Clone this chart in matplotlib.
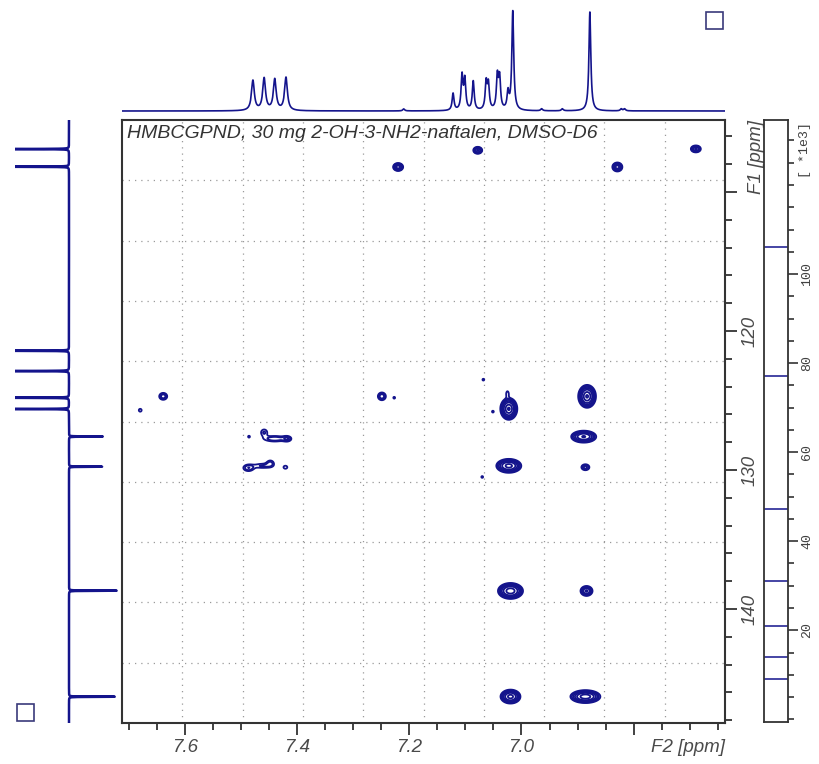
"""HMBC 2D spectrum of 2-OH-3-NH2-naphthalene with F2/F1 projections."""

import matplotlib

matplotlib.use("Agg")
import matplotlib.pyplot as plt
import numpy as np
from matplotlib.patches import Rectangle
from matplotlib.ticker import MultipleLocator

NAVY = "#14148c"
FRAME = "#333333"
LABEL = "#4a4a4a"

# F2 (1H) projection: peak position [ppm], height, FWHM [ppm]
h_ppm = [7.479, 7.459, 7.440, 7.420, 7.122, 7.106, 7.101, 7.086, 7.063, 7.059,
         7.043, 7.039, 7.024, 7.0155, 6.878, 7.210, 6.964, 6.927, 6.822, 6.816]
h_int = [30, 32, 31, 33, 17, 34, 30, 29, 27, 25,
         33, 31, 17, 99, 99, 2, 2, 2, 2, 2]
h_fwhm = [0.006, 0.006, 0.006, 0.006, 0.004, 0.004, 0.004, 0.004, 0.004, 0.004,
          0.004, 0.004, 0.004, 0.004, 0.004, 0.004, 0.004, 0.004, 0.004, 0.004]

# F1 (13C) projection: peak position [ppm], intensity
c_ppm = [106.91, 108.18, 121.42, 122.88, 124.80, 125.61, 127.59, 129.76, 138.68, 146.31]
c_int = [-80, -80, -80, -80, -80, -80, 34, 34, 48, 46]
c_fwhm = 0.02

# cross peaks: F2 ppm, F1 ppm, amplitude [*1e3], sigma F2 [ppm], sigma F1 [ppm]
cp_f2 = [7.220, 7.078, 6.829, 6.689, 7.639, 7.680, 7.249, 7.227, 7.459, 7.440,
         7.418, 7.486, 7.487, 7.462, 7.448, 7.421, 7.0226, 7.025, 7.051, 7.068,
         6.883, 6.889, 7.0226, 6.886, 7.070, 7.0196, 6.884, 7.0196, 6.886]
cp_f1 = [108.2, 107.0, 108.2, 106.9, 124.7, 125.7, 124.7, 124.8, 127.3, 127.75,
         127.75, 127.6, 129.85, 129.7, 129.5, 129.8, 125.6, 124.5, 125.8, 123.5,
         124.7, 127.6, 129.7, 129.8, 130.5, 138.7, 138.7, 146.3, 146.3]
cp_amp = [60, 50, 60, 50, 30, 11, 30, 10, 15, 20,
          18, 10, 20, 15, 15, 12, 110, 12, 10, 10,
          110, 80, 90, 25, 10, 100, 50, 90, 100]
cp_s2 = [0.0046, 0.0043, 0.0046, 0.0048, 0.0046, 0.0041, 0.0046, 0.0037, 0.0054, 0.0143,
         0.0054, 0.0037, 0.0071, 0.0125, 0.0054, 0.0045, 0.0068, 0.0027, 0.0037, 0.0037,
         0.0071, 0.0107, 0.0104, 0.0050, 0.0037, 0.0102, 0.0058, 0.0083, 0.0122]
cp_s1 = [0.147, 0.135, 0.166, 0.135, 0.161, 0.166, 0.180, 0.149, 0.216, 0.158,
         0.144, 0.149, 0.180, 0.144, 0.180, 0.144, 0.353, 0.216, 0.149, 0.149,
         0.369, 0.206, 0.234, 0.150, 0.149, 0.262, 0.194, 0.234, 0.212]

# contour levels [*1e3]
levels = [9.1, 14.1, 21.0, 31.1, 47.3, 77.1, 106.1]

# axis ticks (labels hidden where the axis titles sit)
f2_ticks = [7.6, 7.4, 7.2, 7.0, 6.8]
f2_labels = ["7.6", "7.4", "7.2", "7.0", ""]
f1_ticks = [110, 120, 130, 140]
f1_labels = ["", "120", "130", "140"]
lev_ticks = [20, 40, 60, 80, 100]

F2_LIM = (7.7125, 6.637)
F1_LIM = (148.2, 104.82)
LEV_LIM = (-0.6, 134.6)

W, H = 819, 764
fig = plt.figure(figsize=(W / 100, H / 100), dpi=100)
plt.rcParams["font.family"] = ["Liberation Sans", "DejaVu Sans"]


def px_axes(x0, y0, x1, y1):
    return fig.add_axes([x0 / W, 1 - y1 / H, (x1 - x0) / W, (y1 - y0) / H])


def lorentz(x, pos, amp, fwhm):
    g = fwhm / 2
    return amp * g**2 / ((x - pos) ** 2 + g**2)


# ---- main 2D plot
ax = px_axes(122, 120, 725, 723)
x2 = np.linspace(F2_LIM[1], F2_LIM[0], 1300)
y1 = np.linspace(F1_LIM[1], F1_LIM[0], 1300)
X, Y = np.meshgrid(x2, y1)
Z = np.zeros_like(X)
for f2, f1, a, s2, s1 in zip(cp_f2, cp_f1, cp_amp, cp_s2, cp_s1):
    Z += a * np.exp(-0.5 * (((X - f2) / s2) ** 2 + ((Y - f1) / s1) ** 2))
ax.contour(X, Y, Z, levels=levels, colors=NAVY, linewidths=1.3)

ax.set_xlim(*F2_LIM)
ax.set_ylim(*F1_LIM)
for gx in np.linspace(F2_LIM[0], F2_LIM[1], 11)[1:-1]:
    ax.axvline(gx, color="#9a9a9a", lw=0.9, ls=(0, (1, 4)), zorder=0)
for gy in np.linspace(F1_LIM[0], F1_LIM[1], 11)[1:-1]:
    ax.axhline(gy, color="#9a9a9a", lw=0.9, ls=(0, (1, 4)), zorder=0)

ax.set_xticks(f2_ticks, f2_labels)
ax.xaxis.set_minor_locator(MultipleLocator(0.05))
ax.yaxis.tick_right()
ax.set_yticks(f1_ticks, f1_labels)
ax.yaxis.set_minor_locator(MultipleLocator(2))
ax.tick_params(which="major", length=8.6, width=1.3, color=FRAME, labelsize=13.5,
               labelcolor=LABEL, pad=3)
ax.tick_params(which="minor", length=5.2, width=1.3, color=FRAME)
ax.tick_params(axis="y", labelrotation=90)
for lbl in ax.get_xticklabels() + ax.get_yticklabels():
    lbl.set_fontstyle("italic")
for lbl in ax.get_yticklabels():
    lbl.set_va("center")
for sp in ax.spines.values():
    sp.set_color(FRAME)
    sp.set_linewidth(1.5)

ax.text(5 / 603, 1 - 5 / 603, "HMBCGPND, 30 mg 2-OH-3-NH2-naftalen, DMSO-D6",
        transform=ax.transAxes, ha="left", va="top", fontsize=14,
        style="italic", color="#333333")
ax.text(1.0, -0.026, "F2 [ppm]", transform=ax.transAxes, ha="right", va="top",
        fontsize=13.5, style="italic", color=LABEL)
ax.text(1.0 + 31 / 603, 1.0, "F1 [ppm]", transform=ax.transAxes, ha="center",
        va="top", rotation=90, fontsize=13.5, style="italic", color=LABEL)

# ---- F2 projection on top
top = px_axes(122, 0, 725, 118)
hx = np.linspace(F2_LIM[1], F2_LIM[0], 6000)
hy = np.zeros_like(hx)
for p, a, w in zip(h_ppm, h_int, h_fwhm):
    hy += lorentz(hx, p, a, w)
top.plot(hx, hy, color=NAVY, lw=1.2)
top.set_xlim(*F2_LIM)
top.set_ylim(-7, 111)
top.axis("off")

# ---- F1 projection on the left
left = px_axes(15, 120, 120, 723)
cy = np.linspace(F1_LIM[1], F1_LIM[0], 12000)
cx = np.zeros_like(cy)
for p, a in zip(c_ppm, c_int):
    cx += lorentz(cy, p, a, c_fwhm)
left.plot(cx, cy, color=NAVY, lw=1.8)
left.set_xlim(-54, 51)
left.set_ylim(*F1_LIM)
left.axis("off")

# ---- contour level bar
lev = px_axes(764, 120, 788, 722)
for v in levels:
    lev.axhline(v, color=NAVY, lw=1.1)
lev.set_ylim(*LEV_LIM)
lev.set_xticks([])
lev.yaxis.tick_right()
lev.set_yticks(lev_ticks, [str(t) for t in lev_ticks])
lev.yaxis.set_minor_locator(MultipleLocator(5))
lev.tick_params(axis="y", which="major", length=7.5, width=1.2, color=FRAME,
                labelsize=9.5, labelcolor="#404040", labelrotation=90, pad=2)
lev.tick_params(axis="y", which="minor", length=4.5, width=1.2, color=FRAME)
for lbl in lev.get_yticklabels():
    lbl.set_fontfamily("Liberation Mono")
    lbl.set_va("center")
for sp in lev.spines.values():
    sp.set_color(FRAME)
    sp.set_linewidth(1.3)
lev.text(1.0 + 17 / 24, 1 - 2 / 602, "[ *1e3]", transform=lev.transAxes,
         ha="center", va="top", rotation=90, fontsize=9.5, family="Liberation Mono",
         color="#404040")

# ---- small boxes in the corners
for bx, by in [(706, 12), (17, 704)]:
    fig.add_artist(Rectangle((bx / W, 1 - (by + 17) / H), 17 / W, 17 / H,
                             transform=fig.transFigure, fill=False,
                             edgecolor="#3a3a7a", lw=1.2))

fig.savefig("out.png", dpi=100)
